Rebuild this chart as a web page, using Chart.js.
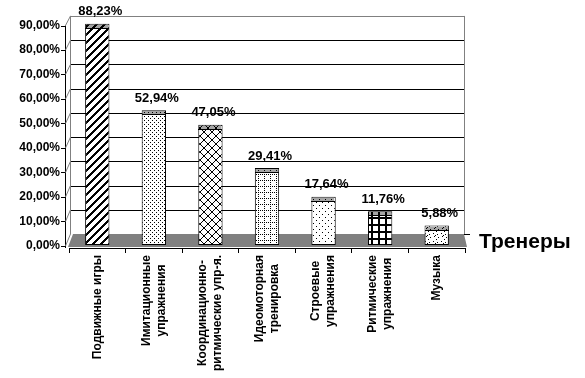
<!DOCTYPE html>
<html>
<head>
<meta charset="utf-8">
<script src="https://cdn.jsdelivr.net/npm/chart.js@4/dist/chart.umd.min.js"></script>
<style>
  body { margin: 0; background: #fff; }
  canvas { display: block; }
</style>
</head>
<body>
<canvas id="c" width="585" height="378"></canvas>
<script>
const categories = [
  ['Подвижные игры'],
  ['Имитационные', 'упражнения'],
  ['Координационно-', 'ритмические упр-я.'],
  ['Идеомоторная', 'тренировка'],
  ['Строевые', 'упражнения'],
  ['Ритмические', 'упражнения'],
  ['Музыка'],
]
const values = [88.23, 52.94, 47.05, 29.41, 17.64, 11.76, 5.88]
const yTicks = [0, 10, 20, 30, 40, 50, 60, 70, 80, 90]
const axisTitle = 'Тренеры'

const FONT = '"Liberation Sans", Arial, sans-serif'
Chart.defaults.font.family = FONT
Chart.defaults.color = '#000'

let canvas = document.getElementById('c')
let ctx = canvas.getContext('2d')

function pct(v) {
  return v.toFixed(2).replace('.', ',') + '%'
}

// small pixel tiles for the black & white fills
function makePattern(w, h, draw, bg) {
  let c = document.createElement('canvas')
  c.width = w
  c.height = h
  let g = c.getContext('2d')
  if (bg) {
    g.fillStyle = bg
    g.fillRect(0, 0, w, h)
  }
  g.fillStyle = '#000'
  draw((x, y, a, b) => g.fillRect(x, y, a || 1, b || 1))
  return ctx.createPattern(c, 'repeat')
}

let tiles = [
  [8, 8, px => { for (let t = 0; t < 8; t++) for (let k = 0; k < 3; k++) px((t + k) % 8, 7 - t) }],
  [4, 4, px => { px(0, 0); px(2, 2) }],
  [8, 8, px => { for (let t = 0; t < 8; t++) { px(t, t); px(t, 7 - t) } }],
  [6, 6, px => { px(0, 0); px(2, 0); px(4, 0); px(0, 2); px(0, 4) }],
  [6, 6, px => { px(1, 1); px(4, 4) }],
  [7, 7, px => { px(0, 0, 7, 2); px(0, 0, 2, 7) }],
  [8, 8, px => { px(1, 1); px(5, 2); px(2, 4); px(6, 5); px(4, 7); px(3, 3) }],
]
let fills = tiles.map(t => makePattern(t[0], t[1], t[2], '#fff'))
let capFills = tiles.map(t => makePattern(t[0], t[1], t[2], null))

const LABEL_SHIFT = 6   // front tick labels sit a bit lower than the bar scale
const BACK_DY = 6       // back wall offset
const BACK_K = 0.989

let wallPlugin = {
  id: 'wall',
  beforeDraw(chart) {
    let {ctx, chartArea: a, scales: {y}} = chart
    let fy = v => y.getPixelForValue(v) + LABEL_SHIFT
    let by = v => y.getPixelForValue(v * BACK_K) - BACK_DY
    let wl = a.left + 1
    let wr = a.right - 1
    ctx.save()
    // floor
    ctx.fillStyle = '#808080'
    ctx.beginPath()
    ctx.moveTo(wl + 3, by(0))
    ctx.lineTo(wr, by(0))
    ctx.lineTo(a.right + 2, a.bottom - 1)
    ctx.lineTo(a.left - 1, a.bottom - 1)
    ctx.closePath()
    ctx.fill()
    // wall grid
    ctx.lineWidth = 1
    for (let v of yTicks) {
      if (v == 0) continue
      ctx.strokeStyle = v == 90 ? '#808080' : '#000'
      ctx.beginPath()
      ctx.moveTo(wl, Math.round(by(v)) + 0.5)
      ctx.lineTo(wr, Math.round(by(v)) + 0.5)
      ctx.stroke()
    }
    ctx.strokeStyle = '#808080'
    ctx.beginPath()
    ctx.moveTo(wl + 0.5, by(90))
    ctx.lineTo(wl + 0.5, by(0))
    ctx.moveTo(wr + 0.5, by(90))
    ctx.lineTo(wr + 0.5, by(0))
    ctx.stroke()
    // right end of floor
    ctx.strokeStyle = '#000'
    ctx.beginPath()
    ctx.moveTo(wr, Math.round(by(0)) + 0.5)
    ctx.lineTo(wr + 6, Math.round(by(0)) + 0.5)
    ctx.stroke()
    // front value axis with ticks and links to the wall
    let ax = a.left - 4
    ctx.strokeStyle = '#000'
    ctx.beginPath()
    ctx.moveTo(ax + 0.5, fy(90))
    ctx.lineTo(ax + 0.5, a.bottom)
    for (let v of yTicks) {
      let yy = Math.round(fy(v)) + 0.5
      ctx.moveTo(ax - 4, yy)
      ctx.lineTo(ax + 1, yy)
    }
    ctx.stroke()
    ctx.strokeStyle = '#808080'
    ctx.beginPath()
    for (let v of yTicks) {
      ctx.moveTo(ax + 0.5, fy(v))
      ctx.lineTo(wl + 0.5, by(v))
    }
    ctx.stroke()
    ctx.restore()
  },
  afterDatasetsDraw(chart) {
    let {ctx, scales: {x}, chartArea: a} = chart
    let meta = chart.getDatasetMeta(0)
    ctx.save()
    meta.data.forEach((bar, i) => {
      let x0 = Math.round(bar.x - bar.width / 2)
      let w = Math.round(bar.width)
      let top = Math.round(bar.y)
      ctx.fillStyle = '#a6a6a6'
      ctx.fillRect(x0 + 1, top + 1, w - 2, 4)
      ctx.fillStyle = capFills[i]
      ctx.fillRect(x0 + 1, top + 1, w - 2, 4)
      ctx.fillStyle = '#000'
      ctx.fillRect(x0, top + 4, w, 1)
      // value label
      ctx.font = 'bold 13px ' + FONT
      ctx.textAlign = 'center'
      ctx.textBaseline = 'middle'
      ctx.fillText(pct(values[i]), bar.x + 3, bar.y - 12)
    })
    // category labels, rotated, lines centred on each other
    ctx.font = 'bold 12px ' + FONT
    ctx.textAlign = 'center'
    ctx.textBaseline = 'middle'
    categories.forEach((lines, i) => {
      let maxW = Math.max(...lines.map(l => ctx.measureText(l).width))
      ctx.save()
      ctx.translate(x.getPixelForValue(i), a.bottom + 7 + maxW / 2)
      ctx.rotate(-Math.PI / 2)
      lines.forEach((l, j) => ctx.fillText(l, 0, (j - (lines.length - 1) / 2) * 15))
      ctx.restore()
    })
    ctx.font = 'bold 21px ' + FONT
    ctx.textAlign = 'left'
    ctx.textBaseline = 'alphabetic'
    ctx.fillText(axisTitle, a.right + 14, a.bottom)
    ctx.restore()
  },
}

new Chart(ctx, {
  type: 'bar',
  data: {
    labels: categories,
    datasets: [{
      data: values,
      base: -2.04,
      backgroundColor: fills,
      borderColor: '#000',
      borderWidth: 1,
      borderSkipped: false,
      categoryPercentage: 1,
      barPercentage: 0.43,
    }],
  },
  options: {
    responsive: false,
    animation: false,
    devicePixelRatio: 1,
    layout: {padding: {left: 0, top: 19.5, right: 120, bottom: 125}},
    plugins: {legend: {display: false}, tooltip: {enabled: false}},
    scales: {
      x: {
        grid: {display: true, drawOnChartArea: false, drawTicks: true, tickLength: 5, offset: true, color: '#000'},
        border: {display: true, color: '#000'},
        ticks: {display: false},
        afterFit: s => { s.height = 5 },
      },
      y: {
        min: -3.27,
        max: 90,
        grid: {display: false, drawTicks: false},
        border: {display: false},
        afterBuildTicks: s => { s.ticks = yTicks.map(v => ({value: v})) },
        afterFit: s => { s.width = 69 },
        ticks: {
          padding: 9,
          labelOffset: LABEL_SHIFT,
          font: {size: 12, weight: 'bold'},
          callback: v => pct(v),
        },
      },
    },
  },
  plugins: [wallPlugin],
})
</script>
</body>
</html>
